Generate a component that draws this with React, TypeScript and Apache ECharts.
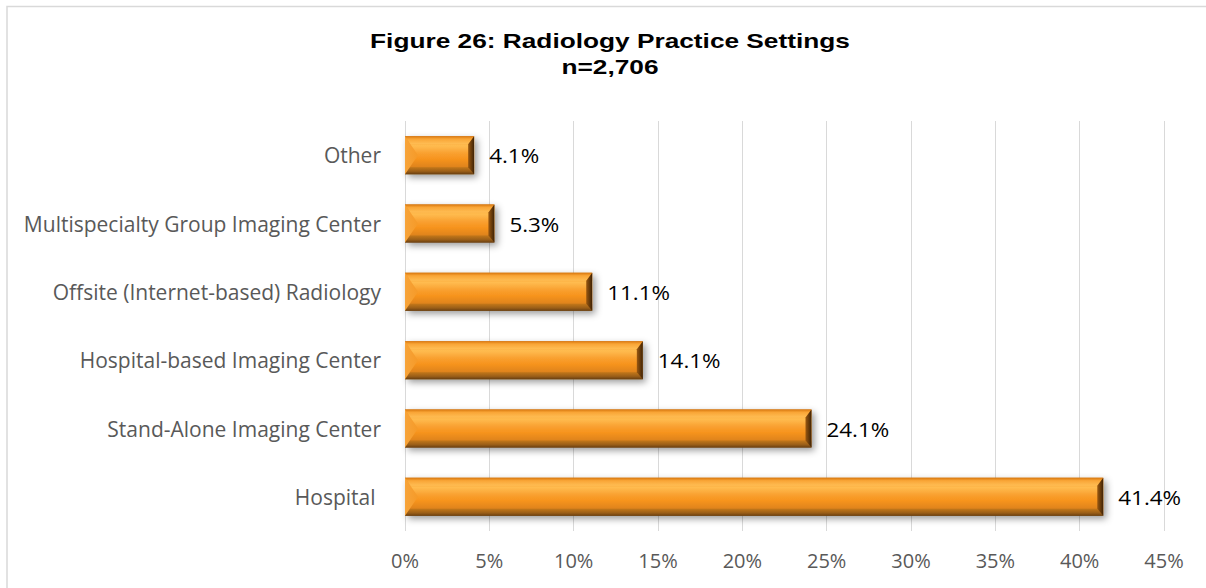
import React, { useEffect, useRef } from "react";
import * as echarts from "echarts";

const categories = [
  "Hospital ",
  "Stand-Alone Imaging Center",
  "Hospital-based Imaging Center",
  "Offsite (Internet-based) Radiology",
  "Multispecialty Group Imaging Center",
  "Other",
];
const values = [41.4, 24.1, 14.1, 11.1, 5.3, 4.1];
const xTicks = [0, 5, 10, 15, 20, 25, 30, 35, 40, 45];
const titleLines = ["Figure 26: Radiology Practice Settings", "n=2,706"];

export default function App() {
  const ref = useRef<HTMLDivElement>(null);
  useEffect(() => {
    if (!ref.current) return;
    const chart = echarts.init(ref.current, undefined, { renderer: "svg" });
    const grad = (stops: [number, string][], horizontal = false) =>
      new echarts.graphic.LinearGradient(0, 0, horizontal ? 1 : 0, horizontal ? 0 : 1,
        stops.map(([offset, color]) => ({ offset, color })));

    const titleStyle = {
      fontFamily: "Liberation Sans, Arial",
      fontWeight: "bold",
      fontSize: 21,
      fill: "#000000",
      align: "center",
      verticalAlign: "middle",
    };

    const option: any = {
      animation: false,
      backgroundColor: "#ffffff",
      graphic: [
        {
          type: "rect",
          shape: { x: 7, y: 6.5, width: 1300, height: 700 },
          style: { fill: "none", stroke: "#d9d9d9", lineWidth: 1.5 },
          silent: true,
        },
        {
          type: "text",
          x: 610,
          y: 40,
          scaleX: 1.25,
          style: { ...titleStyle, text: titleLines[0] },
        },
        {
          type: "text",
          x: 610,
          y: 66,
          scaleX: 1.25,
          style: { ...titleStyle, text: titleLines[1] },
        },
      ],
      grid: { left: 405, right: 42, top: 121, bottom: 57 },
      xAxis: {
        type: "value",
        min: 0,
        max: 45,
        interval: 5,
        axisLine: { show: false },
        axisTick: { show: false },
        splitLine: { lineStyle: { color: "#d9d9d9", width: 1 } },
        axisLabel: {
          formatter: (v: number) => (xTicks.includes(v) ? v + "%" : ""),
          color: "#595959",
          fontFamily: "Open Sans",
          fontSize: 20,
          margin: 19,
        },
      },
      yAxis: {
        type: "category",
        data: categories,
        axisLine: { show: false },
        axisTick: { show: false },
        axisLabel: {
          color: "#595959",
          fontFamily: "Open Sans",
          fontSize: 21,
          margin: 24,
        },
      },
      series: [
        {
          type: "custom",
          data: values.map((v, i) => [v, i]),
          encode: { x: 0, y: 1 },
          renderItem: (params: any, api: any) => {
            const v = api.value(0);
            const c = api.value(1);
            const s = api.coord([0, c]);
            const e = api.coord([v, c]);
            const h = api.size([0, 1])[1] * 0.555;
            const x0 = s[0];
            const x1 = e[0];
            const y0 = s[1] - h / 2;
            const y1 = s[1] + h / 2;
            const ym = s[1];
            const w = x1 - x0;
            const bt = 8;
            const bb = 7;
            const bl = 13;
            const br = 6;
            return {
              type: "group",
              children: [
                {
                  type: "rect",
                  shape: { x: x0, y: y0, width: w, height: h },
                  style: {
                    fill: grad([
                      [0, "#C96C0A"],
                      [0.06, "#F08A18"],
                      [0.25, "#FFBC50"],
                      [0.45, "#F9A030"],
                      [0.6, "#F7941E"],
                      [0.8, "#E0841C"],
                      [0.92, "#A8641A"],
                      [1, "#6E4213"],
                    ]),
                    shadowBlur: 7,
                    shadowColor: "rgba(0,0,0,0.4)",
                    shadowOffsetX: 3,
                    shadowOffsetY: 3,
                  },
                },
                {
                  type: "polygon",
                  shape: {
                    points: [
                      [x0, y0],
                      [x1, y0],
                      [x1 - br, y0 + bt],
                      [x0 + bl * (bt / (h / 2)), y0 + bt],
                    ],
                  },
                  style: {
                    fill: grad([
                      [0, "#D9780F"],
                      [0.35, "#F9A536"],
                      [1, "#FFBE55"],
                    ]),
                  },
                },
                {
                  type: "polygon",
                  shape: {
                    points: [
                      [x0, y1],
                      [x1, y1],
                      [x1 - br, y1 - bb],
                      [x0 + bl * (bb / (h / 2)), y1 - bb],
                    ],
                  },
                  style: {
                    fill: grad([
                      [0, "#C47819"],
                      [0.6, "#9A5E18"],
                      [1, "#6A3F10"],
                    ]),
                  },
                },
                {
                  type: "polygon",
                  shape: {
                    points: [
                      [x0, y0],
                      [x0 + bl, ym],
                      [x0, y1],
                    ],
                  },
                  style: {
                    fill: grad(
                      [
                        [0, "#F7A43A"],
                        [1, "#F59A28"],
                      ],
                      true
                    ),
                  },
                },
                {
                  type: "polygon",
                  shape: {
                    points: [
                      [x1, y0],
                      [x1, y1],
                      [x1 - br, y1 - bb],
                      [x1 - br, y0 + bt],
                    ],
                  },
                  style: {
                    fill: grad(
                      [
                        [0, "#9A5810"],
                        [1, "#3E2205"],
                      ],
                      true
                    ),
                  },
                },
                {
                  type: "text",
                  x: x1 + 15,
                  y: ym,
                  scaleX: 1.12,
                  style: {
                    text: v.toFixed(1) + "%",
                    fontFamily: "Open Sans",
                    fontSize: 20,
                    fill: "#000000",
                    verticalAlign: "middle",
                    align: "left",
                  },
                },
              ],
            };
          },
        },
      ],
    };
    chart.setOption(option);
    return () => chart.dispose();
  }, []);
  return (
    <div
      ref={ref}
      style={{ position: "fixed", left: 0, top: 0, width: 1206, height: 588 }}
    />
  );
}
